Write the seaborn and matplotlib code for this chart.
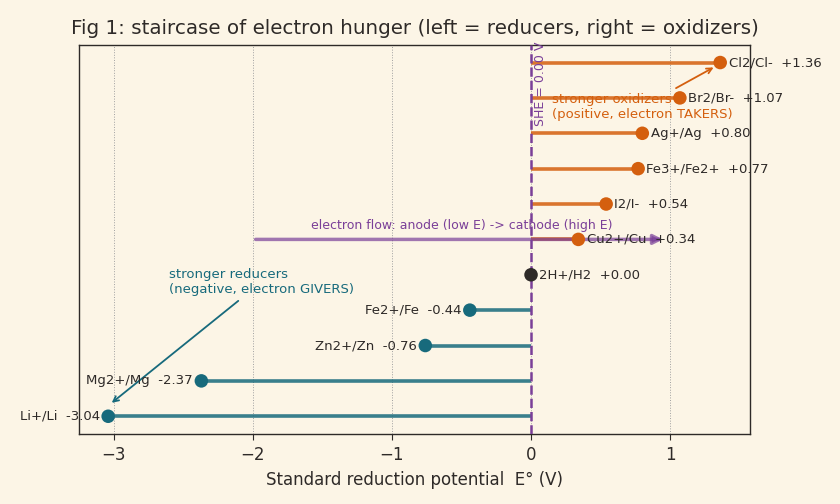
import matplotlib
matplotlib.use('Agg')
import matplotlib.pyplot as plt
import numpy as np
import pandas as pd
import seaborn as sns

couples = ["Li+/Li", "Mg2+/Mg", "Zn2+/Zn", "Fe2+/Fe", "2H+/H2", "Cu2+/Cu",
           "I2/I-", "Fe3+/Fe2+", "Ag+/Ag", "Br2/Br-", "Cl2/Cl-"]
potentials = [-3.04, -2.37, -0.76, -0.44, 0.00, 0.34, 0.54, 0.77, 0.80, 1.07, 1.36]

bg = '#fcf5e6'
c_ox = '#d45f0e'
c_red = '#176a7c'
c_she = '#7a3f98'
c_ink = '#2e2a28'

df = pd.DataFrame({'couple': couples, 'E': potentials})
df['row'] = np.arange(len(df))
df['kind'] = np.where(df['E'] > 0, 'ox', np.where(df['E'] < 0, 'red', 'she'))
palette = {'ox': c_ox, 'red': c_red, 'she': c_ink}

sns.set_style('white')
plt.rcParams['font.family'] = ['DejaVu Sans']

fig, ax = plt.subplots(figsize=(8.4, 5.04), dpi=100)
fig.patch.set_facecolor(bg)
ax.set_facecolor(bg)

# stems from SHE to each couple
for _, r in df.iterrows():
    ax.hlines(r['row'], 0, r['E'], color=palette[r['kind']], lw=2.6, alpha=0.85, zorder=2)

sns.scatterplot(data=df, x='E', y='row', hue='kind', palette=palette, s=95,
                edgecolor='none', legend=False, ax=ax, zorder=4)

for _, r in df.iterrows():
    lab = f"{r['couple']}  {r['E']:+.2f}"
    if r['E'] < 0:
        ax.text(r['E'] - 0.06, r['row'], lab, ha='right', va='center', fontsize=9.5, color=c_ink, zorder=5)
    else:
        ax.text(r['E'] + 0.06, r['row'], lab, ha='left', va='center', fontsize=9.5, color=c_ink, zorder=5)

# SHE reference
ax.axvline(0, color=c_she, ls='--', lw=1.8, zorder=3)
ax.text(0.02, 10.58, 'SHE = 0.00 V', rotation=90, ha='left', va='top', fontsize=9, color=c_she)

# electron flow arrow
ax.annotate('', xy=(0.97, 5), xytext=(-2.0, 5),
            arrowprops=dict(arrowstyle='-|>', color=c_she, lw=2.5, alpha=0.7, mutation_scale=14))
ax.text(-0.5, 5.22, 'electron flow: anode (low E) -> cathode (high E)', ha='center', va='bottom',
        fontsize=9, color=c_she)

ax.annotate('stronger oxidizers\n(positive, electron TAKERS)', xy=(1.33, 9.9), xytext=(0.15, 8.75),
            ha='left', va='center', fontsize=9.5, color=c_ox,
            arrowprops=dict(arrowstyle='->', color=c_ox, lw=1.3))
ax.annotate('stronger reducers\n(negative, electron GIVERS)', xy=(-3.03, 0.33), xytext=(-2.6, 3.8),
            ha='left', va='center', fontsize=9.5, color=c_red,
            arrowprops=dict(arrowstyle='->', color=c_red, lw=1.3))

ax.set_xlim(-3.25, 1.575)
ax.set_ylim(-0.5, 10.5)
ax.set_yticks([])
ax.set_ylabel('')
ax.set_xticks([-3, -2, -1, 0, 1])
ax.grid(axis='x', color='#a0a0a0', ls=':', lw=0.7)
ax.tick_params(axis='x', labelsize=12, colors=c_ink, length=4, pad=5, bottom=True)
for s in ax.spines.values():
    s.set_color(c_ink)
    s.set_linewidth(1.0)
ax.set_xlabel('Standard reduction potential  E\u00b0 (V)', fontsize=12, color=c_ink, labelpad=5)
ax.set_title('Fig 1: staircase of electron hunger (left = reducers, right = oxidizers)',
             fontsize=14.3, color=c_ink, pad=8)

fig.subplots_adjust(left=0.094, right=0.893, top=0.911, bottom=0.139)
fig.savefig('out.png', dpi=100, facecolor=bg)
